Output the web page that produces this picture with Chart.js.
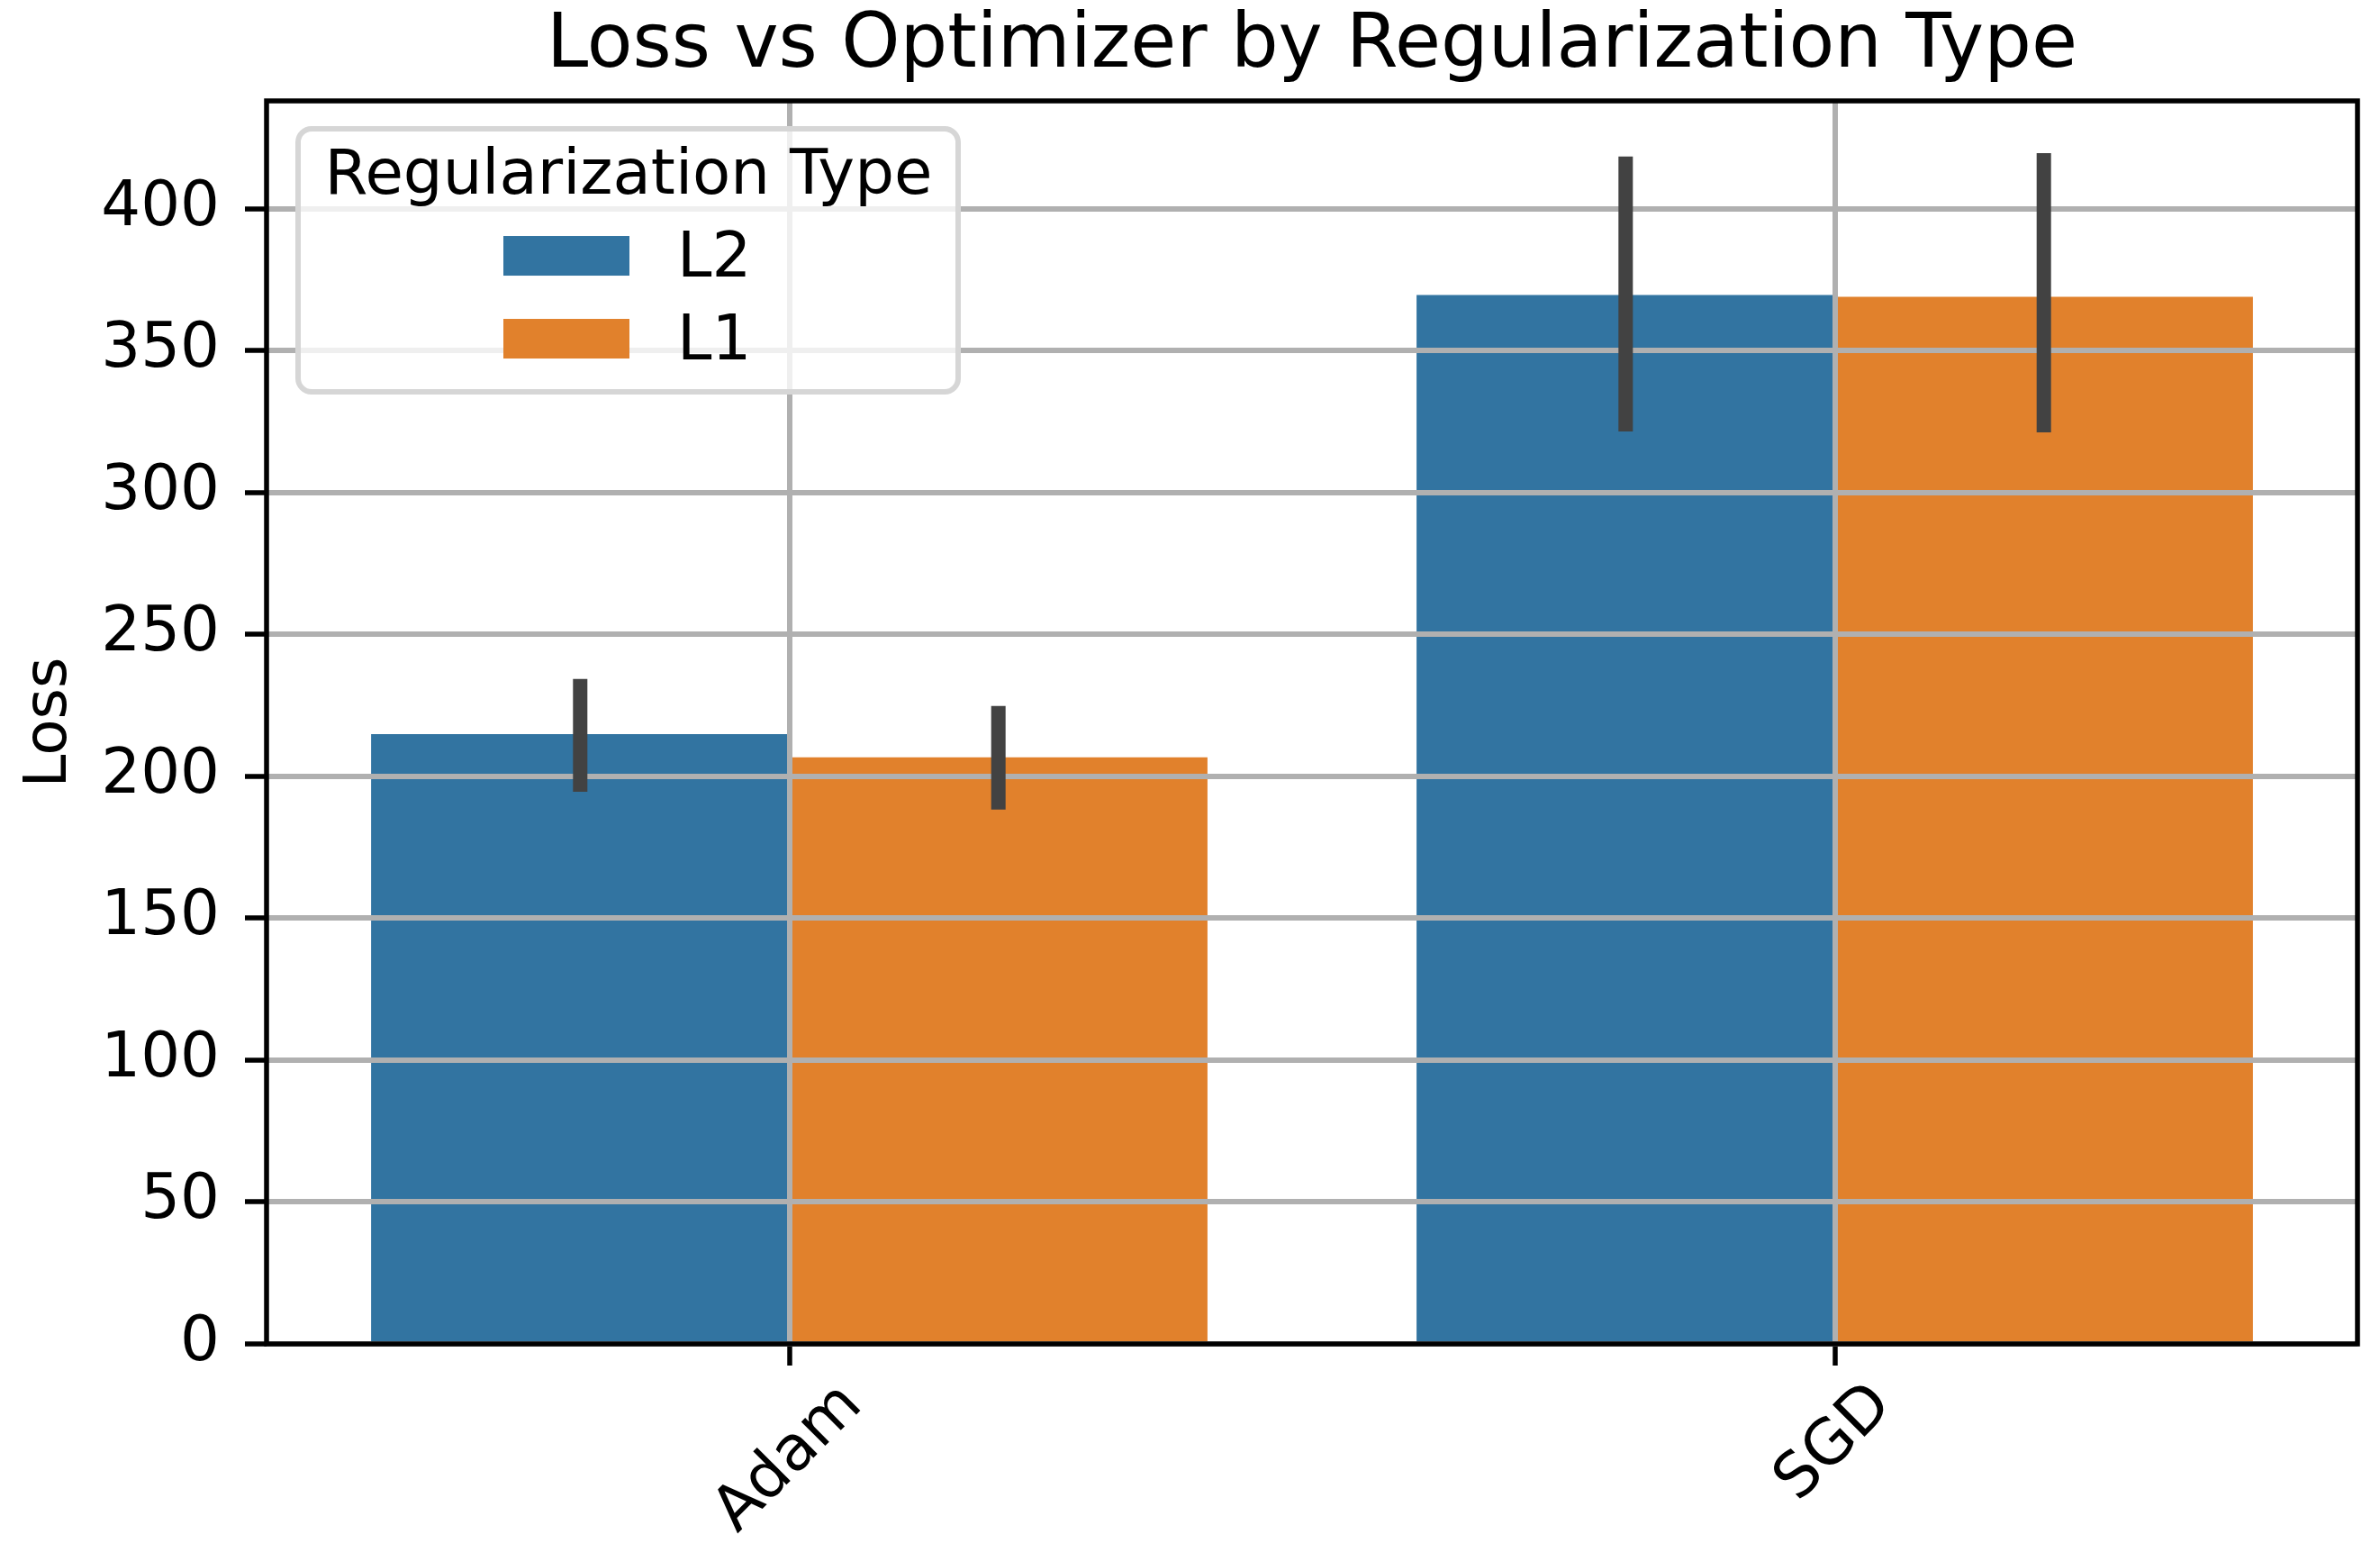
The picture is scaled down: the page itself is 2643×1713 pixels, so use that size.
<!DOCTYPE html>
<html>
<head>
<meta charset="utf-8">
<title>Loss vs Optimizer by Regularization Type</title>
<script src="https://cdn.jsdelivr.net/npm/chart.js@4.4.1/dist/chart.umd.min.js"></script>
<style>
    html, body { margin: 0; padding: 0; background: #fff; }
    #chart { display: block; }
</style>
</head>
<body>
<canvas id="chart" width="2643" height="1713" style="width:2643px;height:1713px"></canvas>
<script>
// Data
const optimizers = ['Adam', 'SGD'];
const regTypes = ['L2', 'L1'];

const l2Loss = [214.9, 369.6];
const l2Lower = [194.6, 321.5];
const l2Upper = [234.3, 418.4];

const l1Loss = [206.7, 369.0];
const l1Lower = [188.3, 321.2];
const l1Upper = [224.8, 419.6];

const yTickStep = 50;
const yMax = 438;

const FONT = 'DejaVu Sans';
const TEXT_SIZE = 69;
const barColors = ['#3274a1', '#e1812c'];

// Error bars, drawn after the grid so they sit on top of it
const errorBarPlugin = {
    id: 'errorBars',
    afterDraw(chart) {
        const ctx = chart.ctx;
        const y = chart.scales.y;
        ctx.save();
        ctx.strokeStyle = '#424242';
        ctx.lineWidth = 16;
        ctx.lineCap = 'butt';
        chart.data.datasets.forEach((ds, i) => {
            const meta = chart.getDatasetMeta(i);
            meta.data.forEach((bar, j) => {
                ctx.beginPath();
                ctx.moveTo(bar.x, y.getPixelForValue(ds.errLow[j]));
                ctx.lineTo(bar.x, y.getPixelForValue(ds.errHigh[j]));
                ctx.stroke();
            });
        });
        ctx.restore();
    }
};

// Box spines, rotated x labels and the legend
const framePlugin = {
    id: 'frame',
    afterDraw(chart) {
        const ctx = chart.ctx;
        const area = chart.chartArea;
        const x = chart.scales.x;

        ctx.save();
        ctx.strokeStyle = '#000';
        ctx.lineWidth = 5.5;
        ctx.strokeRect(area.left, area.top, area.right - area.left, area.bottom - area.top);

        // x tick labels, rotated 45 degrees and centred on the tick
        ctx.font = TEXT_SIZE + 'px "' + FONT + '"';
        ctx.fillStyle = '#000';
        ctx.textAlign = 'center';
        ctx.textBaseline = 'middle';
        const lineH = TEXT_SIZE * 1.164;
        optimizers.forEach((label, i) => {
            const px = x.getPixelForTick(i);
            const w = ctx.measureText(label).width;
            const cy = area.bottom + 24 + 5 + (w + lineH) * Math.SQRT1_2 / 2;
            ctx.save();
            ctx.translate(px, cy);
            ctx.rotate(-Math.PI / 4);
            ctx.fillText(label, 0, 0);
            ctx.restore();
        });

        // legend
        const lx = area.left + 35;
        const ly = area.top + 31;
        ctx.beginPath();
        ctx.roundRect(lx, ly, 733, 292, 15);
        ctx.fillStyle = 'rgba(255,255,255,0.8)';
        ctx.fill();
        ctx.strokeStyle = '#d6d6d6';
        ctx.lineWidth = 6;
        ctx.stroke();

        ctx.fillStyle = '#000';
        ctx.textBaseline = 'alphabetic';
        ctx.textAlign = 'center';
        ctx.fillText('Regularization Type', area.left + 402, area.top + 103);

        ctx.textAlign = 'left';
        chart.data.datasets.forEach((ds, i) => {
            const top = area.top + 150 + i * 92;
            ctx.fillStyle = ds.backgroundColor;
            ctx.fillRect(area.left + 263, top, 140, 44);
            ctx.fillStyle = '#000';
            ctx.fillText(ds.label, area.left + 456, top + 45);
        });
        ctx.restore();
    }
};

new Chart(document.getElementById('chart'), {
    type: 'bar',
    data: {
        labels: optimizers,
        datasets: [
            { label: regTypes[0], data: l2Loss, errLow: l2Lower, errHigh: l2Upper, backgroundColor: barColors[0] },
            { label: regTypes[1], data: l1Loss, errLow: l1Lower, errHigh: l1Upper, backgroundColor: barColors[1] }
        ]
    },
    options: {
        responsive: false,
        devicePixelRatio: 1,
        animation: false,
        layout: { padding: { left: 0, right: 25, top: 0, bottom: 0 } },
        datasets: {
            bar: { categoryPercentage: 0.8, barPercentage: 1.0, borderWidth: 0 }
        },
        plugins: {
            legend: { display: false },
            tooltip: { enabled: false },
            title: {
                display: true,
                fullSize: false,
                text: 'Loss vs Optimizer by Regularization Type',
                color: '#000',
                font: { family: FONT, size: 83, weight: 'normal', lineHeight: 1.14 },
                padding: { top: 5, bottom: 12.4 }
            }
        },
        scales: {
            x: {
                offset: true,
                afterFit(scale) { scale.height = 221; },
                grid: {
                    offset: false,
                    z: 1,
                    color: '#b0b0b0',
                    lineWidth: 6,
                    tickColor: '#000',
                    tickWidth: 5.5,
                    tickLength: 24
                },
                border: { display: false },
                ticks: { display: false }
            },
            y: {
                min: 0,
                max: yMax,
                afterFit(scale) { scale.width = 296; },
                grid: {
                    z: 1,
                    color: '#b0b0b0',
                    lineWidth: 6,
                    tickColor: '#000',
                    tickWidth: 5.5,
                    tickLength: 24
                },
                border: { display: false },
                ticks: {
                    stepSize: yTickStep,
                    includeBounds: false,
                    padding: 28,
                    color: '#000',
                    font: { family: FONT, size: TEXT_SIZE }
                },
                title: {
                    display: true,
                    text: 'Loss',
                    color: '#000',
                    font: { family: FONT, size: 66 },
                    padding: { top: 16, bottom: 0 }
                }
            }
        }
    },
    plugins: [errorBarPlugin, framePlugin]
});
</script>
</body>
</html>
